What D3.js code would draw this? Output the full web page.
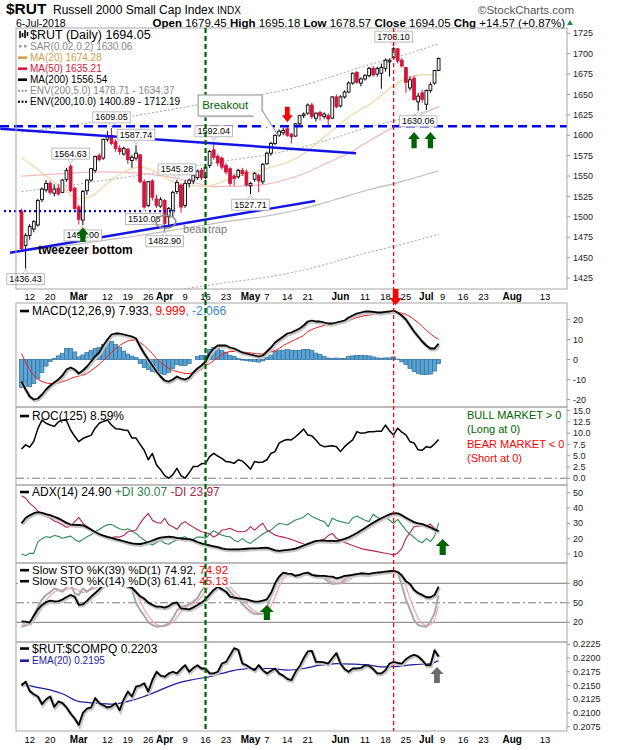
<!DOCTYPE html>
<html>
<head>
<meta charset="utf-8">
<script src="https://cdn.jsdelivr.net/npm/d3@7"></script>
<style>
  body { margin: 0; background: #fff; }
  text { font-family: "Liberation Sans", Arial, sans-serif; }
</style>
</head>
<body>
<svg id="chart" width="620" height="750"></svg>
<script>
// ---------------------------
// DATA
// ---------------------------
const firstDay = "2018-02-08";
const lastAxisDay = "2018-08-21";
const holidays = ["2018-02-19", "2018-03-30", "2018-05-28", "2018-07-04"];

const tickDates = ["2018-02-12","2018-02-20","2018-03-01","2018-03-12","2018-03-19","2018-03-26",
  "2018-04-02","2018-04-09","2018-04-16","2018-04-23","2018-05-01","2018-05-07","2018-05-14",
  "2018-05-21","2018-06-01","2018-06-11","2018-06-18","2018-06-25","2018-07-02","2018-07-09",
  "2018-07-16","2018-07-23","2018-08-01","2018-08-13"];
const tickLabels = ["12","20","Mar","12","19","26","Apr","9","16","23","May","7","14","21",
  "Jun","11","18","25","Jul","9","16","23","Aug","13"];

const open = [1507,1465,1477,1485,1490,1521,1533,1541,1529,1535,
  1530,1546,1562,1535,1512,1496,1532,1545,1557,1575,
  1572,1595,1600,1592,1584,1577,1583,1569,1572,1576,
  1543,1514,1544,1522,1513,1520,1500,1508,1531,1539,
  1514,1541,1544,1548,1557,1548,1563,1582,1574,1572,
  1563,1559,1550,1549,1557,1555,1538,1546,1551,1543,
  1565,1578,1590,1600,1603,1608,1601,1599,1614,1624,
  1627,1637,1621,1628,1623,1624,1621,1647,1636,1647,
  1653,1664,1677,1664,1669,1673,1682,1675,1676,1682,
  1690,1695,1706,1692,1683,1658,1670,1641,1652,1638,
  1655,1664,1679.45];
const high = [1510,1480,1491,1496,1522,1536,1545,1544,1540,1540,
  1546,1560,1564.63,1537,1515,1533,1546,1560,1575,1578,
  1596,1605,1609.05,1595,1588,1586,1584,1576,1587.74,1577,
  1546,1544,1546,1527,1524,1522,1512,1532,1545.28,1541,
  1545,1547,1553,1558,1560,1563,1582,1592.04,1577,1574,
  1566,1561,1553,1559,1560,1558,1543,1555,1553,1566,
  1580,1592,1601,1607,1609,1611,1603,1615,1625,1628,
  1639,1640,1628,1630,1628,1627,1648,1650,1649,1655,
  1666,1677,1679,1671,1675,1684,1685,1684,1688,1694,
  1694,1708.10,1707,1695,1684,1672,1673,1652,1656,1656,
  1665,1680,1695.18];
const low = [1459,1436.43,1472,1481,1488,1518,1530,1527,1525,1526,
  1529,1543,1530,1509,1490.5,1490,1527,1543,1554,1568,
  1570,1592,1588,1580,1576,1575,1565,1560,1569,1541,
  1510.08,1512,1520,1511,1511,1482.90,1490,1500,1528,1505,
  1511,1536,1540,1545,1545,1546,1560,1570,1562,1558,
  1552,1538,1538,1547,1550,1537,1527.71,1543,1530,1540,
  1564,1575,1588,1598,1600,1598,1590,1598,1612,1621,
  1625,1620,1617,1618,1620,1611,1620,1633,1634,1645,
  1652,1662,1663,1660,1667,1671,1672,1672,1657,1678,
  1672,1693,1688,1683,1652,1655,1642,1630.06,1640,1631,
  1652,1662,1678.57];
const close = [1461,1477,1488,1494,1520,1534,1541,1530,1534,1528,
  1545,1557,1532,1510,1497,1531,1545,1559,1574,1570,
  1595,1598,1590,1584,1580,1584,1570,1573,1578,1543,
  1512,1543,1524,1514,1521,1492,1510,1530,1542,1512,
  1541,1545,1551,1556,1548,1561,1580,1573,1566,1561,
  1555,1541,1547,1557,1553,1539,1541,1553,1544,1564,
  1578,1590,1600,1605,1606,1600,1598,1614,1624,1626,
  1637,1623,1627,1624,1626,1620,1647,1635,1647,1653,
  1664,1676,1665,1669,1673,1682,1674,1682,1683,1692,
  1692,1706,1691,1685,1665,1668,1644,1648,1644,1655,
  1662,1679.48,1694.05];

// moving averages, read at a few days (trading-day index)
const ma20At = [0,3,6,10,14,17,20,25,29,33,37,41,45,49,53,60,68,76,80,86,90,94,98,102];
const ma20 = [1572,1562,1550,1535,1522,1525,1537,1555,1561,1555,1543,1539,1537,1543,1550,1559,1574,1606,1622,1641,1657,1670,1674,1674.28];
const ma50At = [0,10,20,30,40,47,55,60,65,70,76,80,84,91,97,102];
const ma50 = [1550,1553,1555,1553,1545,1537,1538,1540,1546,1555,1569,1578,1590,1610,1624,1635.21];
const ma200At = [0,10,20,30,40,50,60,68,76,84,92,102];
const ma200 = [1458,1464,1471,1478,1486,1494,1501,1509,1520,1532,1542,1556.54];
const envPcts = [5, 10];

const macd = [-11,-15,-18.5,-20,-19.5,-17.5,-15,-13,-11.5,-10,
  -8,-5,-4,-5,-7,-5.5,-3.5,-1,1.5,3.5,
  7,10,12.5,13,13,12.5,12,11.5,10.5,6.5,
  3,0,-3,-6,-8.5,-10.5,-11,-10,-8.5,-9.5,
  -10,-9,-6.5,-4.5,-3,-1,3,5.5,7,7,
  7,6,5.5,4.5,3.5,3,2.5,2,1.5,2,
  4,6,8.5,10,11.5,13,13.5,14.5,15.5,17,
  19,19.5,19,19,18.5,18,18,18.5,19,19.5,
  21,22,23,23.5,24,24,23.8,23.5,23.5,23.8,
  24,24.5,23.5,22,20,17,14,11.5,9,7,
  5.5,5.5,7.933];
const macdSignal = [3,-1.5,-5,-8,-10,-11,-11.7,-12,-12,-11.8,
  -11,-10.5,-9.5,-8.8,-8.3,-7.8,-7,-5.5,-4,-2.5,
  -0.5,1.5,3.5,5.5,7,8.3,9.3,9.8,9.5,8.5,
  7,5,3,0.5,-1.5,-3,-4.5,-5.5,-6,-6.5,
  -7,-7,-6.5,-6,-5,-3,-2,-0.5,1,2.5,
  3.5,4,4,4,3.8,3.5,3.3,3,2.8,2.7,
  3,3.8,4.5,5.5,7,8,9,10,11,12,
  14,15,15.8,16.5,17,17.3,17.5,17.8,18.5,19,
  19.5,20.2,21,21.5,22,22.2,22.5,22.7,23,23,
  23.2,23.2,23.3,23.2,22.5,21.5,20,18.5,16.5,14.5,
  12.8,11.3,9.999];

const roc = [6.5,7.4,6.9,8.2,11,12.9,12.2,11.8,11.5,12.5,
  12.9,12.8,10.7,9.3,8.1,8.8,9.2,9.5,11.1,12.2,
  12.6,12.9,11.8,11,10.9,10.7,10.6,8.9,8.9,7.5,
  6.2,4.1,5.5,3.0,1.9,0.6,0.0,0.8,2.2,0.6,
  0,1.2,2.6,2.6,3.2,3.3,4.8,5.5,4.9,4.4,
  3.7,3.6,3.3,4.1,3.8,3.0,2.0,3.7,3.5,3.6,
  4.1,5.5,5.9,7.8,8.3,8.6,8.5,9.2,10.0,10.9,
  9.6,9.4,8.5,7.4,7.0,7.1,7.2,7.0,5.9,7.0,
  7.8,8.5,10.3,10.0,10.1,10.3,10.3,10.4,10.4,11.8,
  10.5,9.6,11.1,10.2,9.6,8.1,7.8,6.3,6.2,7.0,
  6.8,7.6,8.59];

const adx = [30,33.5,35.2,36.6,37.3,36.8,36,35.3,34.3,33.2,
  31.8,30.3,29.2,29,28.9,28.7,27.5,26,24.3,23,
  22,21.2,20.5,19.7,19.1,18.3,17.5,16.9,16.6,16.5,
  17,17.8,18.8,19.8,20.7,21,21.3,21,20.5,20.1,
  19.9,19.7,19,17.8,16.9,16.2,15.6,15,14.4,13.7,
  13.1,13,13,13,13.2,13.4,13.6,13.7,13.8,14,
  14.1,13.3,12.4,12,12.3,12.6,13,13.5,14.5,15.5,
  16.6,17.5,18.5,18.7,18.7,18.6,18.5,18.4,19,19.8,
  20.8,22.2,23.7,25.3,27,28.7,30.4,31.9,33.3,34.6,
  35.8,36.6,36.5,35.3,33.6,32.2,30.8,30,29.5,28.5,
  27.4,26,24.9];
const plusDI = [10,9,10.4,10.4,17.9,20,21.2,20.8,22,21.5,
  20.2,21,21.7,19.5,18,19.5,21.2,22.5,24.5,26,
  27.8,29,29.3,27.8,26.5,25.6,26.5,25,23.4,21,
  19.1,17,15.8,17.5,19.1,17,16.3,18,19.1,20.5,
  21.2,19.5,19.5,21,21,20.2,23,25.2,23.5,22.3,
  21.5,21.2,19,18,20.2,18,16.9,19.1,21,23,
  24.5,25.6,28,29.9,29.5,28.9,30.5,32.2,33,34,
  36.5,34.5,33.3,32,31.1,27.8,33.3,32,31.1,30.5,
  29.9,33.5,34.7,33.3,32,31.1,35.9,34,32.6,34.3,
  32,29.9,32.6,29,25.6,23,20.8,18.5,17.3,20.2,
  18,21.5,30.07];
const minusDI = [48,46.5,43,40.9,38,35.5,34.5,33.5,31.5,30.5,
  29,27.4,28,31,33.9,30,28,25.5,24,22.5,
  21.5,20.5,20.5,21.2,21,22,24.5,25,25.6,30,
  33.5,36.5,32,30.5,30,33.3,29,27.8,26.1,29.5,
  31.1,29,27.5,26,24.5,24,23,21,22.5,25.6,
  26,26.7,25.5,24.5,24.5,25,27.8,25.6,28,30,
  25.6,24,22.3,21.5,21,20.2,19.5,18.5,17.5,16.5,
  15.8,17,18,19,19.6,22,23.4,20.2,19,17.5,
  16.5,15.5,14.5,13.5,13,12.5,12,11.5,11,10.5,
  10,9.4,10.5,13.7,20,24,27.8,28.3,28,27.8,
  29.5,26.7,23.97];

const sto39 = [21.5,21,19.5,30,40,46.7,51,53.3,52,52.5,
  55,59,62,59.5,47,47.7,53,59.5,65,70.8,
  77.4,84,86,83,80,78,75.2,73,66.6,60,
  56.4,50.3,47,44,44,42.6,45,49.2,50.5,41.3,
  40.5,39.8,43,46.5,50.3,55.4,63,69.7,74.8,71,
  67.1,59.5,58,56.9,56,55.4,53.5,51.7,51.7,53.5,
  55.4,65,80,90.3,96.4,95,94.4,91.3,93,95.4,
  96.4,93,91.3,91.3,91.5,90.5,90.3,87.7,89,91.3,
  92,92.8,94,95.4,95,94.4,95.5,96.4,97,98,
  98.5,99,97.5,92,83,79,69.7,65,62.1,58.5,
  58.5,62,74.92];
const sto14K = [14,16,20,30,44,55,62,66,72,70,
  67,74,77.5,64.6,62,72.3,67.2,72,76,80,
  85,90,92,88,83,78,75,70,50,38.9,
  30,20,15.8,13.3,14,15,18.4,26,38,44,
  45,48,51.8,57,68,77.4,87.7,90.3,88,83,
  74.9,67,60,56.9,48,42,36.3,33,32.7,33.7,
  41.4,60,75,90.3,95.4,93.5,92.8,92,93,92.8,
  93,93,92.8,90,87.7,83,79,79.5,80,85,
  90.3,93,94.4,93,92,91.3,94,96.4,97,97.5,
  98,97,96.4,77.4,55,40,23.5,15.8,14,13.3,
  21,33.7,61.41];
const sto14D = [12,14,16.5,22,31,43,54,61,66.5,69,
  69.5,70,73,72,68,66,67,70.5,72,76,
  80,85,89,90,88,83,78.5,74,65,53,
  40,30,22,16.5,14.5,14,16,20,27.5,36,
  42.5,45.5,48,52,59,67.5,77.5,85,88.5,87,
  82,75,67.5,61.5,55,49,42,37,34,33,
  36,45,59,75,87,93,94,92.8,92.6,92.6,
  93,93,93,92,90,87,83,80.5,79.5,81.5,
  85,89.5,92.5,93.5,93,92,92.5,94,96,97,
  97.5,97.5,97,90,76,57,40,26,18,14.5,
  16,22.5,45.13];

const ratio = [0.2150,0.2157,0.2140,0.2134,0.2130,0.2116,0.2125,0.2130,0.2111,0.2121,
  0.2118,0.2110,0.2099,0.2090,0.2078,0.2100,0.2108,0.2110,0.2127,0.2118,
  0.2114,0.2110,0.2112,0.2118,0.2105,0.2125,0.2139,0.2130,0.2148,0.2150,
  0.2154,0.2139,0.2160,0.2175,0.2168,0.2166,0.2172,0.2175,0.2172,0.2180,
  0.2187,0.2175,0.2182,0.2187,0.2181,0.2181,0.2172,0.2172,0.2175,0.2190,
  0.2193,0.2205,0.2218,0.2215,0.2190,0.2187,0.2182,0.2178,0.2187,0.2178,
  0.2172,0.2177,0.2181,0.2172,0.2168,0.2162,0.2160,0.2175,0.2185,0.2200,
  0.2212,0.2213,0.2193,0.2193,0.2192,0.2190,0.2200,0.2209,0.2190,0.2180,
  0.2175,0.2181,0.2181,0.2182,0.2187,0.2186,0.2180,0.2172,0.2172,0.2178,
  0.2190,0.2193,0.2191,0.2190,0.2198,0.2203,0.2206,0.2203,0.2196,0.2187,
  0.2187,0.2214,0.2203];
const emaAt = [0,3,7,10,14,18,22,26,30,34,38,42,46,49,53,57,61,65,69,73,77,81,85,88,92,96,100,102];
const ema20 = [0.2154,0.2148,0.2142,0.2135,0.2121,0.2118,0.2116,0.2121,0.2130,0.2142,0.2154,0.2161,
  0.2166,0.2172,0.2179,0.2181,0.2181,0.2178,0.2181,0.2187,0.2190,0.2189,0.2187,0.2184,0.2185,0.2188,0.2190,0.2195];

// annotations
const priceLabels = [
  {i: 91, v: 1708.10, side: "top"}, {i: 22, v: 1609.05, side: "top"}, {i: 28, v: 1587.74, side: "top"},
  {i: 12, v: 1564.63, side: "top"}, {i: 38, v: 1545.28, side: "top"}, {i: 47, v: 1592.04, side: "top"},
  {i: 30, v: 1510.08, side: "bottom"}, {i: 35, v: 1482.90, side: "bottom"}, {i: 56, v: 1527.71, side: "bottom"},
  {i: 1, v: 1436.43, side: "bottom"}, {i: 15, v: 1490.00, side: "bottom"}, {i: 97, v: 1630.06, side: "bottom"}
];
const trendUpper = [[-5.2, 1608], [81.8, 1578]];
const trendLower = [[-2.8, 1456], [71.8, 1519.4]];
const resistance = 1611, support = 1507, supportEnd = 37.5;
const greenDay = 45, redDay = 91;
const arrows = [
  {panel: "price", i: 15, tip: 1487, base: 1469, w: 12, color: "#006400"},
  {panel: "price", i: 96, tip: 1604, base: 1584, w: 12, color: "#006400"},
  {panel: "price", i: 100, tip: 1604, base: 1584, w: 12, color: "#006400"},
  {panel: "price", i: 65, tip: 1616, base: 1635, w: 11, color: "#ff0000"},
  {panel: "adx", i: 103, tip: 19.8, base: 9.3, w: 14, color: "#006400"},
  {panel: "sto", i: 60, tip: 46.6, base: 23.5, w: 14, color: "#006400"},
  {panel: "ratio", i: 101.6, tip: 0.21837, base: 0.21545, w: 13, color: "#6a6a6a"}
];

// ---------------------------
// SCALES & PANELS
// ---------------------------
const svg = d3.select("#chart");
const red = "#d5143c";
const parseDay = d3.timeParse("%Y-%m-%d"), fmtDay = d3.timeFormat("%Y-%m-%d");
const calendar = d3.timeDay.range(parseDay(firstDay), parseDay(lastAxisDay))
  .filter(d => d.getDay() !== 0 && d.getDay() !== 6 && !holidays.includes(fmtDay(d)));
const dayIndex = s => calendar.findIndex(d => fmtDay(d) === s);

const left = 16, right = 567;
const x = d3.scaleLinear().domain([-1.35, 133.4]).range([left, right]);
const days = d3.range(close.length);

const panels = {
  price: {top: 28, bottom: 289, lo: 1411.5, hi: 1731.5, ticks: d3.range(1425, 1726, 25), fmt: d => d},
  macd: {top: 303, bottom: 407, lo: -23.75, hi: 28.25, ticks: [-20, -10, 0, 10, 20], fmt: d => d},
  roc: {top: 407, bottom: 485, lo: -1.5, hi: 15.8, ticks: d3.range(0, 15.1, 2.5), fmt: d3.format(".1f")},
  adx: {top: 485, bottom: 563, lo: 4.1, hi: 55, ticks: [10, 20, 30, 40, 50], fmt: d => d},
  sto: {top: 563, bottom: 642, lo: -10.3, hi: 111.2, ticks: [20, 50, 80], fmt: d => d},
  ratio: {top: 642, bottom: 731, lo: 0.20672, hi: 0.22292, ticks: d3.range(0.2075, 0.2226, 0.0025), fmt: d3.format(".4f")}
};

const defs = svg.append("defs");
Object.entries(panels).forEach(([id, p]) => {
  p.y = d3.scaleLinear().domain([p.lo, p.hi]).range([p.bottom, p.top]);
  defs.append("clipPath").attr("id", "clip-" + id)
    .append("rect").attr("x", left).attr("y", p.top).attr("width", right - left).attr("height", p.bottom - p.top);
  p.g = svg.append("g");
  p.plot = p.g.append("g").attr("clip-path", `url(#clip-${id})`);

  // right axis
  p.g.selectAll(".tick").data(p.ticks).join("text")
    .attr("x", right + 6).attr("y", d => p.y(d)).attr("dy", "0.35em")
    .attr("font-size", 9).attr("fill", "#222").text(p.fmt);
  p.g.selectAll(".tk").data(p.ticks).join("line")
    .attr("x1", right).attr("x2", right + 3).attr("y1", d => p.y(d)).attr("y2", d => p.y(d))
    .attr("stroke", "#999");
});

// ---------------------------
// HELPERS
// ---------------------------
const lineOf = (p, arr) => d3.line().x((d, i) => x(i)).y(d => p.y(d))(arr);
const sparseLine = (p, at, vals) => d3.line().curve(d3.curveMonotoneX)
  .x(d => x(d[0])).y(d => p.y(d[1]))(d3.zip(at, vals));

function drawPath(g, d, color, width, opts = {}) {
  if (opts.shadow) {
    g.append("path").attr("d", d).attr("fill", "none").attr("stroke", "#c4c4c4")
      .attr("stroke-width", width + 1.6).attr("transform", "translate(0.8,1.2)");
  }
  return g.append("path").attr("d", d).attr("fill", "none").attr("stroke", color)
    .attr("stroke-width", width).attr("stroke-dasharray", opts.dash || null)
    .attr("stroke-linejoin", "round");
}

function legend(g, x0, y0, parts, size, icon, bg) {
  const t = g.append("text").attr("x", x0).attr("y", y0).attr("font-size", size);
  parts.forEach(p => t.append("tspan").attr("fill", p[1] || "#000").text(p[0]));
  if (bg) {
    const b = t.node().getBBox();
    g.insert("rect", () => t.node()).attr("x", x0 - 14).attr("y", b.y)
      .attr("width", b.width + 16).attr("height", b.height).attr("fill", "#fff");
  }
  if (icon) {
    const iy = y0 - size * 0.33;
    g.append("line").attr("x1", x0 - 12).attr("x2", x0 - 3).attr("y1", iy).attr("y2", iy)
      .attr("stroke", icon.color).attr("stroke-width", icon.width || 2.6)
      .attr("stroke-dasharray", icon.dash || null);
  }
  return t;
}

function blockArrow(g, cx, tipY, baseY, w, color) {
  const dir = baseY > tipY ? 1 : -1, head = 7 * dir, hw = w / 2, sw = w * 0.22;
  const pts = [[cx, tipY], [cx + hw, tipY + head], [cx + sw, tipY + head], [cx + sw, baseY],
    [cx - sw, baseY], [cx - sw, tipY + head], [cx - hw, tipY + head]];
  g.append("path").attr("d", "M" + pts.join("L") + "Z").attr("fill", color);
}

// ---------------------------
// HEADER
// ---------------------------
svg.append("text").attr("x", 6).attr("y", 14).attr("font-size", 15.5).attr("font-weight", "bold").text("$RUT");
const title = svg.append("text").attr("x", 53).attr("y", 13.5).attr("font-size", 12);
title.append("tspan").text("Russell 2000 Small Cap Index ");
title.append("tspan").attr("font-size", 10).text("INDX");
svg.append("text").attr("x", 574).attr("y", 14).attr("font-size", 11.5).attr("text-anchor", "end")
  .attr("fill", "#555").text("\u00A9StockCharts.com");
svg.append("text").attr("x", 16).attr("y", 26.5).attr("font-size", 10.5).text("6-Jul-2018");
const quote = svg.append("text").attr("x", 565).attr("y", 26.5).attr("font-size", 11.5).attr("text-anchor", "end");
[["Open", 1], [" 1679.45 "], ["High", 1], [" 1695.18 "], ["Low", 1], [" 1678.57 "],
 ["Close", 1], [" 1694.05 "], ["Chg", 1], [" +14.57 (+0.87%)"]]
  .forEach(p => quote.append("tspan").attr("font-weight", p[1] ? "bold" : null).text(p[0]));
svg.append("path").attr("d", "M567,25L573,25L570,20Z").attr("fill", "#1e8c3c");

// ---------------------------
// PRICE PANEL
// ---------------------------
const P = panels.price;
const envLines = [];
envPcts.forEach(pct => [1 - pct / 100, 1 + pct / 100].forEach(f =>
  envLines.push(ma200.map(v => v * f))));
envLines.forEach(vals => drawPath(P.plot, sparseLine(P, ma200At, vals), "#a4a4a4", 1, {dash: "2,2"}));
drawPath(P.plot, sparseLine(P, ma200At, ma200), "#bdbdbd", 1.2);
drawPath(P.plot, sparseLine(P, ma50At, ma50), "#f5b8bd", 1.2);
drawPath(P.plot, sparseLine(P, ma20At, ma20), "#f0d7a4", 1.2);

// candles
P.plot.selectAll(".wick").data(days).join("line")
  .attr("x1", i => x(i)).attr("x2", i => x(i))
  .attr("y1", i => P.y(high[i])).attr("y2", i => P.y(low[i]))
  .attr("stroke", i => close[i] >= open[i] ? "#000" : red).attr("stroke-width", 1);
P.plot.selectAll(".body").data(days).join("rect")
  .attr("x", i => x(i) - 1.4).attr("width", 2.8)
  .attr("y", i => P.y(Math.max(open[i], close[i])))
  .attr("height", i => Math.max(1, Math.abs(P.y(open[i]) - P.y(close[i]))))
  .attr("fill", i => close[i] >= open[i] ? "#fff" : red)
  .attr("stroke", i => close[i] >= open[i] ? "#000" : red).attr("stroke-width", 0.9);

// trendlines and levels
const trend = d3.line().x(d => x(d[0])).y(d => P.y(d[1]));
P.g.append("path").attr("d", trend(trendUpper)).attr("stroke", "#1414e6").attr("stroke-width", 2.4).attr("fill", "none");
P.g.append("path").attr("d", trend(trendLower)).attr("stroke", "#1414e6").attr("stroke-width", 2.4).attr("fill", "none");
P.g.append("line").attr("x1", 0).attr("x2", right).attr("y1", P.y(resistance)).attr("y2", P.y(resistance))
  .attr("stroke", "#0000ee").attr("stroke-width", 2.4).attr("stroke-dasharray", "9,5");
P.g.append("line").attr("x1", 4).attr("x2", x(supportEnd)).attr("y1", P.y(support)).attr("y2", P.y(support))
  .attr("stroke", "#0000ee").attr("stroke-width", 2.4).attr("stroke-dasharray", "2,3");

// high / low value labels
priceLabels.forEach(d => {
  const cx = x(d.i), vy = P.y(d.v), up = d.side === "top";
  const boxY = up ? vy - 16 : vy + 5;
  const g = P.g.append("g");
  const t = g.append("text").attr("x", cx).attr("y", boxY + 8.5).attr("font-size", 9)
    .attr("text-anchor", "middle").text(d.v.toFixed(2));
  const w = t.node().getComputedTextLength() + 5;
  const edge = up ? boxY + 11 : boxY;
  g.insert("path", () => t.node())
    .attr("d", `M${cx - 3},${edge}L${cx},${up ? vy - 1 : vy + 1}L${cx + 3},${edge}`)
    .attr("fill", "#fff").attr("stroke", "#b4b4b4").attr("stroke-width", 0.8);
  g.insert("rect", () => t.node()).attr("x", cx - w / 2).attr("y", boxY).attr("width", w).attr("height", 11)
    .attr("fill", "#fff").attr("stroke", "#b4b4b4").attr("stroke-width", 0.9);
});

// bear trap / tweezer notes
P.g.append("ellipse").attr("cx", x(35.3)).attr("cy", P.y(1494)).attr("rx", 10).attr("ry", 6.5)
  .attr("fill", "none").attr("stroke", "#8a8a8a").attr("stroke-width", 1.6);
P.g.append("text").attr("x", x(39.5)).attr("y", P.y(1480)).attr("font-size", 11).attr("fill", "#7a7a7a").text("bear trap");
P.g.append("text").attr("x", 38).attr("y", P.y(1455)).attr("font-size", 12).attr("font-weight", "bold").text("tweezeer bottom");

// legend
legend(P.g, 30, 38.5, [["$RUT (Daily) 1694.05"]], 12.5);
P.g.append("path").attr("d", "M20,31V38M22.5,33V37M25,30V38M27.5,32V36").attr("stroke", "#000").attr("stroke-width", 1.6);
legend(P.g, 30, 50, [["SAR(0.02,0.2) 1630.06", "#888"]], 10);
P.g.append("rect").attr("x", 19).attr("y", 45).attr("width", 2.5).attr("height", 2.5).attr("fill", "#999");
P.g.append("rect").attr("x", 24).attr("y", 45).attr("width", 2.5).attr("height", 2.5).attr("fill", "#999");
legend(P.g, 30, 61, [["MA(20) 1674.28", "#d4a04c"]], 10, {color: "#d4a04c"});
legend(P.g, 30, 72, [["MA(50) 1635.21", "#dc143c"]], 10, {color: "#dc143c"});
legend(P.g, 30, 83, [["MA(200) 1556.54"]], 10, {color: "#000"});
legend(P.g, 30, 94, [["ENV(200,5.0) 1478.71 - 1634.37", "#888"]], 10, {color: "#999", dash: "2,1.5", width: 2});
legend(P.g, 30, 105, [["ENV(200,10.0) 1400.89 - 1712.19"]], 10, {color: "#000", dash: "2,1.5", width: 2});

// ---------------------------
// MACD PANEL
// ---------------------------
const M = panels.macd;
const hist = macd.map((v, i) => v - macdSignal[i]);
M.plot.selectAll(".bar").data(days).join("rect")
  .attr("x", i => x(i) - 2).attr("width", 4)
  .attr("y", i => M.y(Math.max(0, hist[i])))
  .attr("height", i => Math.abs(M.y(hist[i]) - M.y(0)))
  .attr("fill", "#5ba3d2").attr("stroke", "#2a6d9c").attr("stroke-width", 0.7);
drawPath(M.plot, lineOf(M, macdSignal), "#ff1a1a", 1);
drawPath(M.plot, lineOf(M, macd), "#000", 1.8, {shadow: true});
legend(M.g, 32, 315, [["MACD(12,26,9) 7.933"], [", 9.999", "#ff0000"], [", -2.066", "#3a86c8"]], 12, {color: "#000"});

// ---------------------------
// ROC PANEL
// ---------------------------
const R = panels.roc;
R.plot.append("line").attr("x1", left).attr("x2", right).attr("y1", R.y(0)).attr("y2", R.y(0))
  .attr("stroke", "#7a7a7a").attr("stroke-dasharray", "8,3,2,3");
drawPath(R.plot, lineOf(R, roc), "#000", 1.5);
legend(R.g, 32, 420, [["ROC(125) 8.59%"]], 12, {color: "#000"});
[["BULL MARKET > 0", "#006400", 419], ["(Long at 0)", "#006400", 433],
 ["BEAR MARKET < 0", "#ff0000", 447.5], ["(Short at 0)", "#ff0000", 461.5]]
  .forEach(t => R.g.append("text").attr("x", 467).attr("y", t[2]).attr("font-size", 11).attr("fill", t[1]).text(t[0]));

// ---------------------------
// ADX PANEL
// ---------------------------
const A = panels.adx;
drawPath(A.plot, lineOf(A, plusDI), "#2e8b57", 1.1);
drawPath(A.plot, lineOf(A, minusDI), "#b8234f", 1.1);
drawPath(A.plot, lineOf(A, adx), "#000", 1.8, {shadow: true});
legend(A.g, 32, 496, [["ADX(14) 24.90 "], ["+DI 30.07 ", "#2e7d4f"], ["-DI 23.97", "#b01e4a"]], 12, {color: "#000"});

// ---------------------------
// STO PANEL
// ---------------------------
const S = panels.sto;
[[80, null], [20, null], [50, "8,3,2,3"]].forEach(l =>
  S.plot.append("line").attr("x1", left).attr("x2", right).attr("y1", S.y(l[0])).attr("y2", S.y(l[0]))
    .attr("stroke", "#7a7a7a").attr("stroke-dasharray", l[1]));
drawPath(S.plot, lineOf(S, sto14D), "#f4a3a3", 1.2);
drawPath(S.plot, lineOf(S, sto14K), "#a8a8a8", 2);
drawPath(S.plot, lineOf(S, sto39), "#000", 1.8, {shadow: true});
legend(S.g, 32, 574, [["Slow STO %K(39) %D(1) 74.92, "], ["74.92", "#ff0000"]], 11.5, {color: "#000"}, true);
legend(S.g, 32, 585, [["Slow STO %K(14) %D(3) 61.41, "], ["45.13", "#ff0000"]], 11.5, {color: "#000"}, true);

// ---------------------------
// RATIO PANEL
// ---------------------------
const Q = panels.ratio;
drawPath(Q.plot, sparseLine(Q, emaAt, ema20), "#1c1c9c", 1.2);
drawPath(Q.plot, lineOf(Q, ratio), "#000", 1.8, {shadow: true});
legend(Q.g, 32, 652.5, [["$RUT:$COMPQ 0.2203"]], 12, {color: "#000"});
legend(Q.g, 32, 664, [["EMA(20) 0.2195", "#1c1c9c"]], 10, {color: "#1c1c9c"});

// ---------------------------
// FRAMES, DATE AXES, MARKERS
// ---------------------------
Object.values(panels).forEach(p =>
  svg.append("rect").attr("x", left).attr("y", p.top).attr("width", right - left).attr("height", p.bottom - p.top)
    .attr("fill", "none").attr("stroke", "#a6a6a6"));

const ticks = tickDates.map((d, k) => ({i: dayIndex(d), label: tickLabels[k]}));
[300, 743].forEach(yy =>
  svg.append("g").selectAll("text").data(ticks).join("text")
    .attr("x", d => x(d.i)).attr("y", yy).attr("text-anchor", "middle")
    .attr("font-size", d => isNaN(+d.label) ? 10 : 9.5)
    .attr("font-weight", d => isNaN(+d.label) ? "bold" : null)
    .text(d => d.label));

svg.append("line").attr("x1", x(greenDay)).attr("x2", x(greenDay)).attr("y1", P.top).attr("y2", Q.bottom)
  .attr("stroke", "#006400").attr("stroke-width", 2.2).attr("stroke-dasharray", "5,3");
svg.append("line").attr("x1", x(redDay)).attr("x2", x(redDay)).attr("y1", P.top).attr("y2", Q.bottom)
  .attr("stroke", "#ff0000").attr("stroke-width", 1.3).attr("stroke-dasharray", "4,3");
blockArrow(svg, x(redDay) + 2, 305, 289, 13, "#ff0000");

// breakout callout (sits over the vertical marker)
const bx0 = x(43.2), bx1 = x(58.8), by0 = P.y(1649.4), by1 = P.y(1623.6);
const ptr = [[bx1 - 9, by1], [bx1, by1 - 6], [x(62.7), P.y(1600)]];
const call = svg.append("g");
call.append("path").attr("d", "M" + ptr.join("L") + "Z").attr("transform", "translate(1.5,1.5)")
  .attr("fill", "#e4e4e4");
call.append("rect").attr("x", bx0 + 1.5).attr("y", by0 + 1.5).attr("width", bx1 - bx0).attr("height", by1 - by0).attr("fill", "#e4e4e4");
call.append("rect").attr("x", bx0).attr("y", by0).attr("width", bx1 - bx0).attr("height", by1 - by0)
  .attr("fill", "#fff").attr("stroke", "#8c8c8c");
call.append("path").attr("d", "M" + ptr.join("L")).attr("fill", "#fff").attr("stroke", "#8c8c8c");
call.append("line").attr("x1", ptr[0][0] + 0.5).attr("x2", ptr[1][0] - 0.5).attr("y1", by1).attr("y2", by1 - 6)
  .attr("stroke", "#fff").attr("stroke-width", 1.5);
call.append("text").attr("x", bx0 + 4).attr("y", by0 + 14).attr("font-size", 11.5).attr("fill", "#006400").text("Breakout");

arrows.forEach(a => {
  const p = panels[a.panel];
  blockArrow(svg, x(a.i), p.y(a.tip), p.y(a.base), a.w, a.color);
});
</script>
</body>
</html>
